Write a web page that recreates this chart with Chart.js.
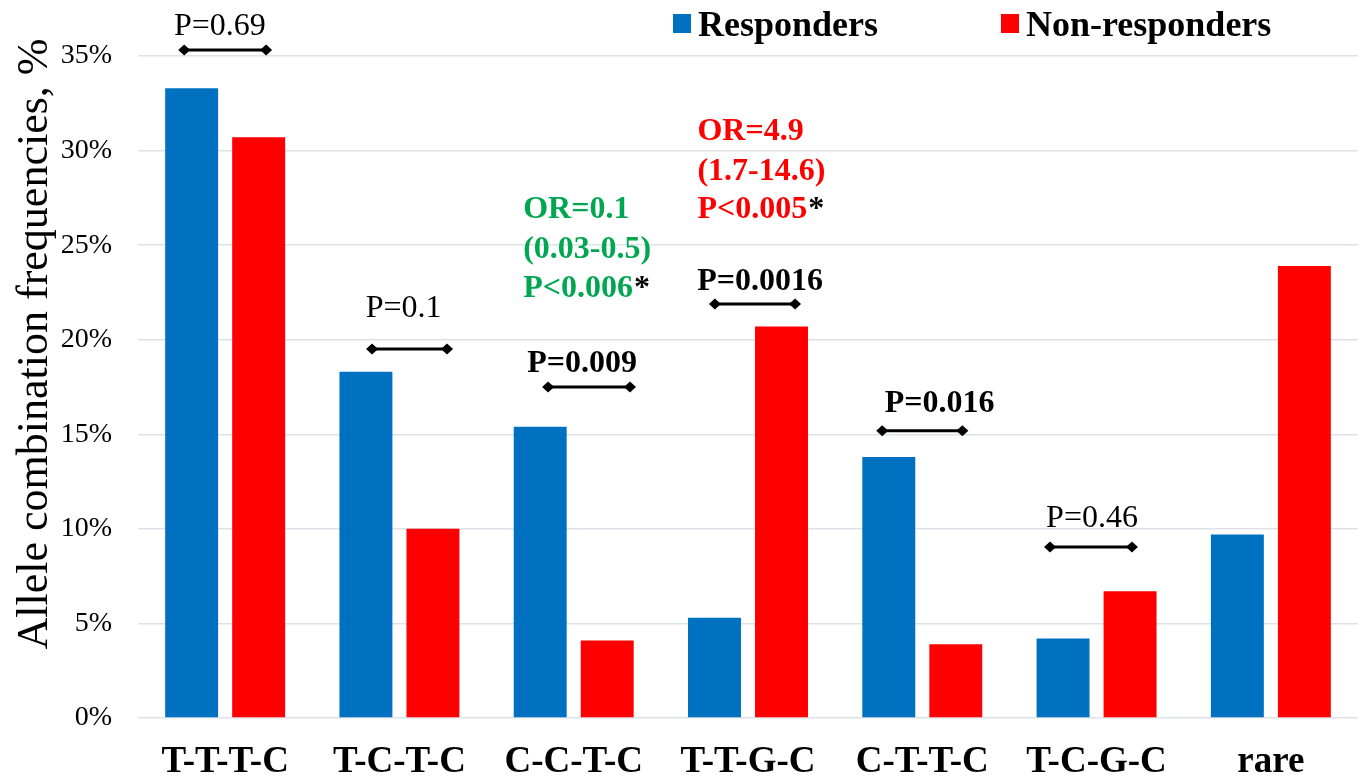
<!DOCTYPE html>
<html>
<head>
<meta charset="utf-8">
<script src="https://cdn.jsdelivr.net/npm/chart.js@4/dist/chart.umd.min.js"></script>
<style>
  html, body { margin: 0; padding: 0; background: #ffffff; }
  canvas { display: block; }
</style>
</head>
<body>
<canvas id="c" width="1359" height="778"></canvas>
<script>
// ---- data ----
const categories = ["T-T-T-C", "T-C-T-C", "C-C-T-C", "T-T-G-C", "C-T-T-C", "T-C-G-C", "rare"];
const responders = [33.3, 18.3, 15.4, 5.3, 13.8, 4.2, 9.7];
const nonResponders = [30.7, 10.0, 4.1, 20.7, 3.9, 6.7, 23.9];
const seriesNames = ["Responders", "Non-responders"];
const yTicks = [0, 5, 10, 15, 20, 25, 30, 35];

// p-value comparisons: category index, label, bracket level (%), label level (%), bold
const pCategory = [0, 1, 2, 3, 4, 5];
const pLabels = ["P=0.69", "P=0.1", "P=0.009", "P=0.0016", "P=0.016", "P=0.46"];
const pBracketLevel = [35.32, 19.51, 17.50, 21.89, 15.19, 9.04];
const pLabelLevel = [36.11, 21.22, 18.29, 22.63, 16.18, 10.10];
const pBold = [false, false, true, true, true, false];

// odds-ratio notes
const orGreenLines = ["OR=0.1", "(0.03-0.5)", "P<0.006"];
const orGreenLevels = [26.44, 24.32, 22.26];
const orRedLines = ["OR=4.9", "(1.7-14.6)", "P<0.005"];
const orRedLevels = [30.56, 28.44, 26.44];

// ---- layout tweaks (not data) ----
const BLUE = "#0070C0", RED = "#FF0000", GREEN = "#00A650";
const SERIF = "'Liberation Serif', 'Times New Roman', serif";
const pBracketDx = [0.0, 0.058, 0.088, 0.04, 0.0, -0.032];
const pLabelDx = [-0.03, 0.024, 0.048, 0.069, 0.099, -0.026];
const pBracketHalf = [0.235, 0.215, 0.235, 0.23, 0.23, 0.235];

function catPx(chart, idx, dx) {
  const x = chart.scales.x;
  const w = (x.right - x.left) / categories.length;
  return x.getPixelForValue(idx) + dx * w;
}

const annotations = {
  id: "annotations",
  afterDraw(chart) {
    const ctx = chart.ctx;
    const y = chart.scales.y;
    const xs = chart.scales.x;
    const cw = (xs.right - xs.left) / categories.length;
    ctx.save();
    // brackets and p-values
    for (let i = 0; i < pLabels.length; i++) {
      const cx = catPx(chart, pCategory[i], pBracketDx[i]);
      const half = pBracketHalf[i] * cw;
      const by = y.getPixelForValue(pBracketLevel[i]);
      ctx.strokeStyle = "#000";
      ctx.fillStyle = "#000";
      ctx.lineWidth = 3;
      ctx.beginPath();
      ctx.moveTo(cx - half, by);
      ctx.lineTo(cx + half, by);
      ctx.stroke();
      [cx - half, cx + half].forEach(px => {
        ctx.beginPath();
        ctx.moveTo(px - 6, by);
        ctx.lineTo(px, by - 5.5);
        ctx.lineTo(px + 6, by);
        ctx.lineTo(px, by + 5.5);
        ctx.closePath();
        ctx.fill();
      });
      ctx.font = (pBold[i] ? "bold " : "") + "32px " + SERIF;
      ctx.textAlign = "center";
      ctx.textBaseline = "alphabetic";
      ctx.fillText(pLabels[i], catPx(chart, pCategory[i], pLabelDx[i]), y.getPixelForValue(pLabelLevel[i]));
    }
    // OR notes
    const drawNote = (lines, levels, cat, color) => {
      const left = catPx(chart, cat, -0.29);
      ctx.font = "bold 32px " + SERIF;
      ctx.textAlign = "left";
      lines.forEach((t, k) => {
        const py = y.getPixelForValue(levels[k]);
        ctx.fillStyle = color;
        ctx.fillText(t, left, py);
        if (k === lines.length - 1) {
          const w = ctx.measureText(t).width;
          ctx.fillStyle = "#000";
          ctx.fillText("*", left + w + 1, py);
        }
      });
    };
    drawNote(orGreenLines, orGreenLevels, 2, GREEN);
    drawNote(orRedLines, orRedLevels, 3, RED);

    // legend
    const ds = chart.data.datasets;
    const legendX = [673, 1001];
    ctx.font = "bold 36px " + SERIF;
    ctx.textAlign = "left";
    ds.forEach((d, k) => {
      ctx.fillStyle = d.backgroundColor;
      ctx.fillRect(legendX[k], 14, 18, 19);
      ctx.fillStyle = "#000";
      ctx.fillText(d.label, legendX[k] + 25, 36);
    });

    // y axis title
    ctx.save();
    ctx.translate(47, 344);
    ctx.rotate(-Math.PI / 2);
    ctx.font = "44px " + SERIF;
    ctx.textAlign = "center";
    ctx.fillStyle = "#000";
    ctx.fillText("Allele combination frequencies, %", 0, 0);
    ctx.restore();
    ctx.restore();
  }
};

new Chart(document.getElementById("c"), {
  type: "bar",
  data: {
    labels: categories,
    datasets: [
      { label: seriesNames[0], data: responders, backgroundColor: BLUE, borderWidth: 0 },
      { label: seriesNames[1], data: nonResponders, backgroundColor: RED, borderWidth: 0 }
    ]
  },
  options: {
    responsive: false,
    animation: false,
    devicePixelRatio: 1,
    categoryPercentage: 0.769,
    barPercentage: 0.79,
    layout: { padding: { top: 56, right: 1, left: 0, bottom: 0 } },
    plugins: { legend: { display: false }, tooltip: { enabled: false } },
    scales: {
      x: {
        grid: { display: false, drawTicks: false },
        border: { display: false },
        ticks: { color: "#000", font: { family: SERIF, size: 37, weight: "bold" }, padding: 22 },
        afterFit(s) { s.height = 60; }
      },
      y: {
        min: 0, max: 35,
        afterBuildTicks(s) { s.ticks = yTicks.map(v => ({ value: v })); },
        grid: { color: "#dde2ea", lineWidth: 1.5, drawTicks: false },
        border: { display: false },
        ticks: { color: "#000", font: { family: SERIF, size: 28 }, padding: 26, callback: v => v + "%" },
        afterFit(s) { s.width = 138; }
      }
    }
  },
  plugins: [annotations]
});
</script>
</body>
</html>
